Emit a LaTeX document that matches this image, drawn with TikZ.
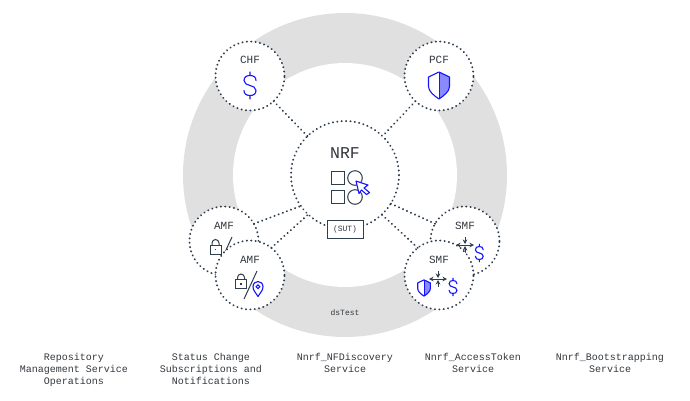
\documentclass[tikz,border=0pt]{standalone}
\usepackage{fontspec}
\setmainfont{Liberation Mono}
\usepackage{xcolor}
\usetikzlibrary{arrows.meta, positioning}
\definecolor{ringgray}{HTML}{E0E0E0}
\definecolor{dotdark}{HTML}{2F3D4C}
\definecolor{inkdark}{HTML}{33383E}
\definecolor{iconblue}{HTML}{1414FF}
\definecolor{shieldfill}{HTML}{8A8AFF}
\tikzset{
  disc/.style={circle, fill=#1, inner sep=0pt, outer sep=0pt},
  nfnode/.style={circle, fill=white, draw=dotdark, line width=2pt, inner sep=0pt,
                 outer sep=0pt, dash pattern=on 0.2pt off 4.2pt, line cap=round},
  link/.style={draw=dotdark, line width=2pt, dash pattern=on 0.2pt off 4.2pt, line cap=round},
  nflabel/.style={text=inkdark, inner sep=0pt, font=\fontsize{11}{13}\selectfont},
  smalllabel/.style={text=inkdark, inner sep=0pt, font=\fontsize{8}{10}\selectfont},
  svclabel/.style={text=inkdark, inner sep=0pt, align=center, anchor=north,
                   font=\fontsize{10}{12}\selectfont},
  sutbox/.style={rectangle, fill=white, draw=dotdark, line width=1pt, minimum width=36,
                 minimum height=18, inner sep=0pt, smalllabel},
  iconline/.style={draw=dotdark, line width=1pt},
  pics/dollar/.style={code={
    \draw[iconblue, line width=1.1pt, line cap=round]
      (6,-5) .. controls (6,-8.5) and (3.5,-10) .. (0,-10)
      .. controls (-3.5,-10) and (-6,-8.5) .. (-6,-5)
      .. controls (-6,-2) and (-3,-0.6) .. (0,0)
      .. controls (3,0.6) and (6,2) .. (6,5)
      .. controls (6,8.5) and (3.5,10) .. (0,10)
      .. controls (-3.5,10) and (-6,8.5) .. (-6,5)
      (0,-13.5) -- (0,-10) (0,10) -- (0,13.5);
  }},
  pics/shield/.style={code={
    \fill[shieldfill] (0,-13.5) -- (10.5,-8.5) -- (10.5,1)
      .. controls (10.5,6) and (5,10) .. (0,13.5) -- cycle;
    \draw[iconblue, line width=1.1pt, line join=round] (0,-13.5) -- (10.5,-8.5) -- (10.5,1)
      .. controls (10.5,6) and (5,10) .. (0,13.5)
      .. controls (-5,10) and (-10.5,6) .. (-10.5,1) -- (-10.5,-8.5) -- cycle;
    \draw[iconblue, line width=.8pt] (0,-13.5) -- (0,13.5);
  }},
  pics/lock/.style={code={
    \draw[iconline] (-5.5,-4.5) rectangle (5.5,4.5);
    \draw[iconline] (-3.5,-4.5) -- (-3.5,-6.5) arc[start angle=180, end angle=360, radius=3.5] -- (3.5,-4.5);
    \fill[dotdark] (-.9,-.9) rectangle (.9,.9);
  }},
  pics/pin/.style={code={
    \draw[iconblue, line width=1.1pt, line join=round] (0,7.5)
      .. controls (-2,4) and (-5,1.5) .. (-5,-2.3)
      .. controls (-5,-5.5) and (-2.5,-7.5) .. (0,-7.5)
      .. controls (2.5,-7.5) and (5,-5.5) .. (5,-2.3)
      .. controls (5,1.5) and (2,4) .. (0,7.5) -- cycle;
    \draw[iconblue, line width=1.1pt] (0,-2.3) circle[radius=1.9];
  }},
  pics/moves/.style={code={
    \draw[iconline, {Stealth[length=4.5pt,width=4.5pt]}-{Stealth[length=4.5pt,width=4.5pt]}] (-9,0) -- (9,0);
    \draw[iconline, -{Stealth[length=4.5pt,width=4.5pt]}] (0,-8.5) -- (0,-1);
    \draw[iconline, -{Stealth[length=4.5pt,width=4.5pt]}] (0,7.5) -- (0,1);
  }},
}
\begin{document}
\begin{tikzpicture}[x=1pt, y=-1pt]
  \useasboundingbox (0,0) rectangle (690,400);
  \node[disc=ringgray, minimum size=324] (ring) at (345,175) {};
  \node[disc=white, minimum size=224] (hole) at (345,175) {};
  \node[smalllabel] (dstest) at (345,312.5) {dsTest};

  \node[nfnode, minimum size=108] (nrf) at (345,175) {};
  \node[nfnode, minimum size=69] (chf) at (250,76) {};
  \node[nfnode, minimum size=69] (pcf) at (439,76) {};
  \node[nfnode, minimum size=69] (amfback) at (224,241) {};
  \node[nfnode, minimum size=69] (smfback) at (465,241) {};

  \draw[link] (chf.-47) -- (nrf.134);
  \draw[link] (pcf.-133) -- (nrf.46);
  \draw[link] (amfback.30) -- (nrf.215);
  \draw[link] (smfback.150) -- (nrf.-32);

  \node[nflabel] (chflabel) at (250,60) {CHF};
  \node[nflabel] (pcflabel) at (439,60) {PCF};
  \node[nflabel] (amfbacklabel) at (224,226) {AMF};
  \node[nflabel] (smfbacklabel) at (465,226) {SMF};

  \pic at (250,85.5) {dollar};
  \pic at (439,85.5) {shield};
  \pic at (215.5,249.5) {lock};
  \draw[iconline] (232,237) -- (219,265);
  \pic at (465,245) {moves};
  \pic[scale=.65] at (479.3,253) {dollar};

  \node[nfnode, minimum size=69] (amffront) at (250,275) {};
  \node[nfnode, minimum size=69] (smffront) at (439,275) {};
  \draw[link] (amffront.52) -- (nrf.227);
  \draw[link] (smffront.128) -- (nrf.-47);

  \node[nflabel] (amffrontlabel) at (250,260) {AMF};
  \node[nflabel] (smffrontlabel) at (439,259.5) {SMF};
  \pic at (241,284) {lock};
  \draw[iconline] (257,271) -- (244,299);
  \pic at (258,289) {pin};
  \pic at (438,279) {moves};
  \pic[scale=.6] at (424,288) {shield};
  \pic[scale=.65] at (453,287) {dollar};

  \node[text=inkdark, inner sep=0pt, font=\fontsize{16.5}{18}\selectfont] (nrflabel) at (345,153) {NRF};
  \draw[iconline] (331,171) rectangle (344,184);
  \draw[iconline] (331,190) rectangle (344,203);
  \draw[iconline] (355,178) circle[radius=7.3];
  \draw[iconline] (355,197) circle[radius=7.3];
  \draw[iconblue, fill=white, line width=1.1pt, line join=round]
    (356,181) -- (368,185) -- (364,188) -- (369.5,192.5) -- (366.5,194.5) -- (361.5,190) -- (359,193.5) -- cycle;
  \node[sutbox] (sut) at (345,229) {(SUT)};

  \node[svclabel] (repo) at (74,353.5) {Repository\\Management Service\\Operations};
  \node[svclabel] (status) at (211,353.5) {Status Change\\Subscriptions and\\Notifications};
  \node[svclabel] (disc) at (345,353.5) {Nnrf\_NFDiscovery\\Service};
  \node[svclabel] (token) at (473,353.5) {Nnrf\_AccessToken\\Service};
  \node[svclabel] (boot) at (610,353.5) {Nnrf\_Bootstrapping\\Service};
\end{tikzpicture}
\end{document}
